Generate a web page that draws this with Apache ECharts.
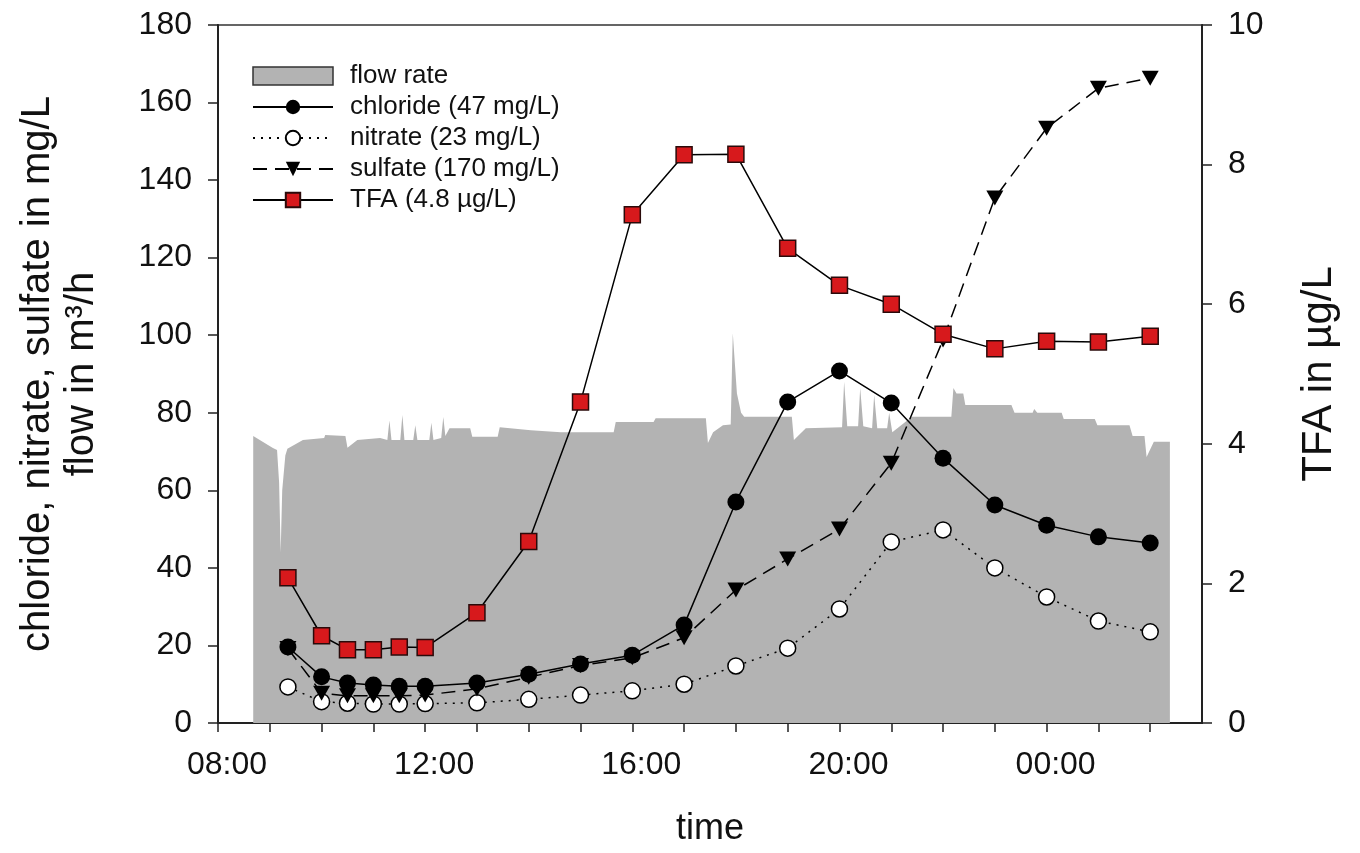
<!DOCTYPE html>
<html>
<head>
<meta charset="utf-8">
<script src="https://cdn.jsdelivr.net/npm/echarts@6/dist/echarts.min.js"></script>
<style>
html,body{margin:0;padding:0;background:#fff;}
#chart{width:1360px;height:853px;}
</style>
</head>
<body>
<div id="chart"></div>
<script>
// sampling times in hours (24 = midnight, 26 = 02:00 next day)
var sampleHours = [9.35, 10, 10.5, 11, 11.5, 12, 13, 14, 15, 16, 17, 18, 19, 20, 21, 22, 23, 24, 25, 26];
var chloride = [19.6, 11.9, 10.3, 9.8, 9.5, 9.5, 10.3, 12.6, 15.2, 17.5, 25.3, 57.0, 82.8, 90.8, 82.5, 68.3, 56.2, 51.0, 48.0, 46.4];
var nitrate  = [9.3, 5.5, 5.1, 4.9, 4.9, 5.0, 5.2, 6.1, 7.2, 8.3, 10.0, 14.7, 19.3, 29.4, 46.7, 49.8, 40.0, 32.5, 26.3, 23.5];
var sulfate  = [19.2, 7.7, 7.0, 7.0, 7.0, 7.2, 8.8, 11.8, 14.8, 16.8, 22.0, 34.3, 42.3, 50.0, 67.0, 98.8, 135.4, 153.4, 163.7, 166.3];
var tfa      = [2.08, 1.25, 1.05, 1.05, 1.09, 1.08, 1.58, 2.6, 4.6, 7.28, 8.14, 8.15, 6.8, 6.27, 6.0, 5.57, 5.36, 5.47, 5.46, 5.54];

// flow rate record (m3/h)
var flowHours = [8.68, 9.06, 9.14, 9.18, 9.21, 9.24, 9.30, 9.34, 9.64, 10.05, 10.07, 10.46, 10.50, 10.69, 11.13, 11.27, 11.31, 11.35,
  11.52, 11.56, 11.60, 11.77, 11.81, 11.85, 12.08, 12.12, 12.16, 12.31, 12.35, 12.39, 12.47, 12.87, 12.91, 13.40, 13.44, 14.04,
  14.62, 15.64, 15.68, 16.41, 16.45, 17.42, 17.46, 17.56, 17.75, 17.90, 17.94, 18.02, 18.10, 18.16, 19.08, 19.12, 19.35, 20.05,
  20.09, 20.15, 20.36, 20.40, 20.46, 20.63, 20.67, 20.73, 20.92, 20.96, 21.02, 21.40, 22.16, 22.20, 22.26, 22.39, 22.43, 23.32,
  23.38, 23.73, 23.76, 23.82, 24.29, 24.33, 24.93, 24.98, 25.60, 25.66, 25.89, 25.93, 26.07, 26.38];
var flowRate = [74.0, 70.9, 70.4, 62, 44, 60, 69, 70.7, 73.0, 73.5, 74.3, 74.0, 71.0, 73.0, 73.5, 73.0, 78.0, 73.0,
  73.0, 79.4, 73.0, 73.0, 76.8, 73.0, 73.0, 77.4, 73.0, 73.5, 78.9, 74.0, 76.0, 76.0, 73.8, 73.8, 76.3, 75.5,
  75.0, 75.0, 77.6, 77.6, 78.6, 78.6, 72.2, 75.0, 76.8, 77.0, 100.5, 85.0, 80.0, 79.0, 79.0, 73.0, 76.0, 76.3,
  88.0, 76.5, 76.5, 86.4, 76.5, 76.0, 84.6, 76.0, 76.0, 80.0, 75.0, 79.0, 79.0, 86.4, 85.0, 85.0, 82.0, 82.0,
  80.0, 80.0, 81.0, 80.0, 80.0, 78.4, 78.4, 76.8, 76.8, 74.0, 74.0, 68.6, 72.5, 72.5];

var legendNames = ['flow rate', 'chloride (47 mg/L)', 'nitrate (23 mg/L)', 'sulfate (170 mg/L)', 'TFA (4.8 µg/L)'];

function pairs(xs, ys){
    var out = [];
    for (var i = 0; i < xs.length; i++) out.push([xs[i], ys[i]]);
    return out;
}
function hourLabel(v){
    if (v % 4 !== 0 || v > 24) return '';
    var h = v % 24;
    return (h < 10 ? '0' + h : '' + h) + ':00';
}

var font = '"Liberation Sans", Arial, sans-serif';
var ink = '#111';
var chart = echarts.init(document.getElementById('chart'));
chart.setOption({
    animation: false,
    textStyle: {fontFamily: font},
    grid: {left: 218, right: 158, top: 25, bottom: 130, show: true, borderColor: '#333', borderWidth: 1.5},
    legend: {
        left: 252, top: 63, orient: 'vertical', padding: 0,
        itemWidth: 80, itemHeight: 18, itemGap: 5,
        textStyle: {fontSize: 26, lineHeight: 26, color: ink, fontFamily: font, padding: [0, 0, 0, 12]},
        data: [
            {name: legendNames[0], icon: 'rect', itemStyle: {color: '#b3b3b3', borderColor: '#333', borderWidth: 1.5}},
            legendNames[1], legendNames[2], legendNames[3], legendNames[4]
        ]
    },
    xAxis: {
        type: 'value', min: 8, max: 27, interval: 1,
        name: 'time', nameLocation: 'middle', nameGap: 88,
        nameTextStyle: {fontSize: 36, color: ink, fontFamily: font},
        axisLine: {lineStyle: {color: '#222', width: 2}},
        axisTick: {length: 9, lineStyle: {color: '#222', width: 1.5}},
        axisLabel: {fontSize: 32, color: ink, margin: 26, padding: [0, 0, 0, 18], formatter: hourLabel, showMaxLabel: false},
        splitLine: {show: false}
    },
    yAxis: [
        {
            type: 'value', min: 0, max: 180, interval: 20,
            name: 'chloride, nitrate, sulfate in mg/L\nflow in m³/h',
            nameLocation: 'middle', nameRotate: 90, nameGap: 114,
            nameTextStyle: {fontSize: 40, lineHeight: 44, color: ink, fontFamily: font},
            axisLine: {show: true, lineStyle: {color: '#222', width: 2}},
            axisTick: {show: true, length: 10, lineStyle: {color: '#222', width: 1.5}},
            axisLabel: {fontSize: 32, color: ink, margin: 26},
            splitLine: {show: false}
        },
        {
            type: 'value', min: 0, max: 10, interval: 2, position: 'right',
            name: 'TFA in µg/L',
            nameLocation: 'middle', nameRotate: 90, nameGap: 94,
            nameTextStyle: {fontSize: 42, lineHeight: 46, color: ink, fontFamily: font},
            axisLine: {show: true, lineStyle: {color: '#222', width: 2}},
            axisTick: {show: true, length: 10, lineStyle: {color: '#222', width: 1.5}},
            axisLabel: {fontSize: 32, color: ink, margin: 26},
            splitLine: {show: false}
        }
    ],
    series: [
        {
            name: legendNames[0], type: 'line', data: pairs(flowHours, flowRate),
            symbol: 'none', lineStyle: {width: 0, color: '#b3b3b3'},
            itemStyle: {color: '#b3b3b3'},
            areaStyle: {color: '#b3b3b3', opacity: 1}, z: 1
        },
        {
            name: legendNames[2], type: 'line', data: pairs(sampleHours, nitrate),
            symbol: 'circle', symbolSize: 16,
            lineStyle: {color: '#000', width: 1.5, type: [2, 6]},
            itemStyle: {color: '#fff', borderColor: '#000', borderWidth: 1.5}, z: 3
        },
        {
            name: legendNames[3], type: 'line', data: pairs(sampleHours, sulfate),
            symbol: 'path://M0,0 L10,0 L5,9 Z', symbolSize: [17, 15],
            lineStyle: {color: '#000', width: 1.5, type: [14, 8]},
            itemStyle: {color: '#000'}, z: 4
        },
        {
            name: legendNames[1], type: 'line', data: pairs(sampleHours, chloride),
            symbol: 'circle', symbolSize: 17,
            lineStyle: {color: '#000', width: 1.5},
            itemStyle: {color: '#000'}, z: 5
        },
        {
            name: legendNames[4], type: 'line', yAxisIndex: 1, data: pairs(sampleHours, tfa),
            symbol: 'rect', symbolSize: 16,
            lineStyle: {color: '#000', width: 1.5},
            itemStyle: {color: '#d7191c', borderColor: '#2a0a0a', borderWidth: 1.5}, z: 6
        }
    ]
});
</script>
</body>
</html>
